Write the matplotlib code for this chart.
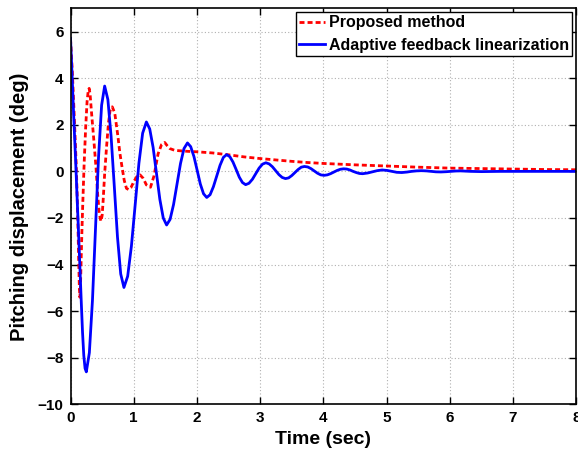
import numpy as np
import matplotlib
matplotlib.use("Agg")
import matplotlib.pyplot as plt

# values (time in sec, pitching displacement in deg)
t_prop = [0, 0.03, 0.06, 0.09, 0.105, 0.12, 0.13, 0.14, 0.148, 0.157, 0.168, 0.18,
          0.19, 0.215, 0.24, 0.262, 0.28, 0.295, 0.31, 0.33, 0.37, 0.405, 0.43,
          0.455, 0.48, 0.50, 0.515, 0.54, 0.57, 0.6, 0.625, 0.66, 0.70, 0.75,
          0.78, 0.815, 0.85, 0.885, 0.92, 0.955, 1.005, 1.05, 1.1, 1.15, 1.2,
          1.265, 1.32, 1.385, 1.44, 1.49, 1.53, 1.57, 1.65, 1.75, 1.85, 2.0,
          2.25, 2.5, 2.75, 3.0, 3.25, 3.5, 3.75, 4.0, 4.5, 5.0, 5.5, 6.0, 6.5,
          7.0, 7.5, 8.0]
y_prop = [5.7, 4.2, 2.3, 0.3, -1.0, -2.6, -3.9, -5.0, -5.4, -5.0, -3.8, -2.6,
          -1.7, 0.3, 1.9, 3.0, 3.45, 3.56, 3.3, 2.6, 1.3, 0.1, -1.0,
          -1.8, -2.14, -1.9, -1.3, -0.1, 1.05, 2.06, 2.6, 2.77, 2.5, 1.5,
          0.8, 0.18, -0.39, -0.73, -0.78, -0.7, -0.42, -0.22, -0.15, -0.3, -0.58,
          -0.68, -0.2, 0.75, 1.15, 1.24, 1.1, 0.98, 0.9, 0.88, 0.86, 0.84,
          0.79, 0.71, 0.62, 0.55, 0.49, 0.43, 0.38, 0.34, 0.28, 0.23, 0.18, 0.14, 0.12,
          0.1, 0.08, 0.07]

t_afl = [0, 0.02, 0.05, 0.084, 0.1, 0.125, 0.147, 0.17, 0.19, 0.21, 0.23, 0.25,
         0.298, 0.347, 0.395, 0.443, 0.492, 0.54,
         0.591, 0.642, 0.693, 0.743, 0.794, 0.845,
         0.904, 0.963, 1.023, 1.082, 1.141, 1.2,
         1.253, 1.307, 1.36, 1.413, 1.467, 1.52,
         1.575, 1.63, 1.685, 1.74, 1.795, 1.85,
         1.901, 1.952, 2.003, 2.053, 2.104, 2.155,
         2.208, 2.26, 2.313, 2.365, 2.418, 2.47,
         2.52, 2.57, 2.62, 2.67, 2.72, 2.77,
         2.823, 2.877, 2.93, 2.983, 3.037, 3.09,
         3.142, 3.193, 3.245, 3.297, 3.348, 3.40,
         3.45, 3.50, 3.55, 3.60, 3.65, 3.70,
         3.752, 3.803, 3.855, 3.907, 3.958, 4.01,
         4.062, 4.113, 4.165, 4.217, 4.268, 4.32,
         4.37, 4.42, 4.47, 4.52, 4.57, 4.62,
         4.70, 4.775, 4.85, 4.93, 5.01, 5.085, 5.16, 5.24, 5.32, 5.395, 5.47,
         5.55, 5.63, 5.705, 5.78, 5.86, 5.94, 6.015, 6.09, 6.17, 6.25, 6.33,
         6.5, 6.8, 7.0, 7.5, 8.0]
y_afl = [5.7, 4.45, 2.4, 0.26, -0.85, -2.5, -4.0, -5.6, -6.9, -7.9, -8.45, -8.6,
         -7.78, -5.54, -2.47, 0.60, 2.84, 3.66,
         3.08, 1.50, -0.66, -2.82, -4.40, -4.98,
         -4.50, -3.21, -1.43, 0.35, 1.64, 2.12,
         1.82, 1.02, -0.09, -1.20, -2.00, -2.30,
         -2.06, -1.42, -0.54, 0.34, 0.98, 1.22,
         1.06, 0.64, 0.05, -0.54, -0.96, -1.12,
         -1.00, -0.66, -0.20, 0.26, 0.60, 0.72,
         0.63, 0.40, 0.08, -0.25, -0.48, -0.57,
         -0.51, -0.34, -0.10, 0.14, 0.31, 0.37,
         0.32, 0.20, 0.03, -0.14, -0.26, -0.31,
         -0.28, -0.18, -0.05, 0.08, 0.18, 0.21,
         0.19, 0.12, 0.02, -0.08, -0.15, -0.17,
         -0.15, -0.10, -0.03, 0.04, 0.09, 0.11,
         0.10, 0.06, 0.0, -0.05, -0.09, -0.10,
         -0.07, -0.02, 0.03, 0.06, 0.04, 0.0, -0.04, -0.05, -0.03, 0.0, 0.02,
         0.03, 0.02, 0.0, -0.02, -0.025, -0.015, 0.0, 0.015, 0.02, 0.01, 0.0,
         -0.01, 0.0, 0.0, 0.0, 0.0]

x_ticks = [0, 1, 2, 3, 4, 5, 6, 7, 8]
y_ticks = [-10, -8, -6, -4, -2, 0, 2, 4, 6]

plt.rcParams['font.family'] = ['Liberation Sans', 'DejaVu Sans']
plt.rcParams['font.weight'] = 'bold'

fig = plt.figure(figsize=(5.78, 4.55), dpi=100)
ax = fig.add_axes([0.122, 0.111, 0.875, 0.871])

ax.plot(t_prop, y_prop, color='#ff0000', lw=2.0, linestyle=(0, (1.8, 1.1)),
        label='Proposed method')
ax.plot(t_afl, y_afl, color='#0000ff', lw=2.0, label='Adaptive feedback linearization')

ax.set_xlim(0, 8)
ax.set_ylim(-10, 7)
ax.set_xticks(x_ticks)
ax.set_yticks(y_ticks)
ax.tick_params(direction='in', length=5, width=1, top=True, right=True,
               labelsize=11, pad=5)
for lab in ax.get_xticklabels() + ax.get_yticklabels():
    lab.set_fontweight('bold')
for sp in ax.spines.values():
    sp.set_linewidth(1.2)
ax.grid(True, linestyle=(0, (1, 2)), color='#b0b0b0', linewidth=0.8)

ax.set_xlabel('Time (sec)', fontsize=14, fontweight='bold', labelpad=4)
ax.set_ylabel('Pitching displacement (deg)', fontsize=14.5, fontweight='bold', labelpad=6)

leg = ax.legend(loc='upper right', fontsize=11.5, frameon=True, fancybox=False,
                edgecolor='black', framealpha=1, handlelength=1.6,
                handletextpad=0.25, borderpad=0.2, labelspacing=0.45,
                borderaxespad=0.25)
leg.get_frame().set_linewidth(1.0)
for txt in leg.get_texts():
    txt.set_fontweight('bold')

plt.savefig('out.png', dpi=100)
